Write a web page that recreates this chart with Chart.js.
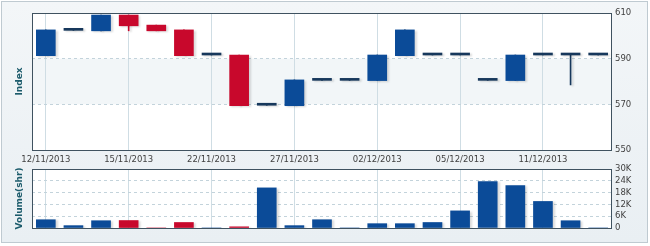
<!DOCTYPE html>
<html>
<head>
<meta charset="utf-8">
<script src="https://cdn.jsdelivr.net/npm/chart.js@4/dist/chart.umd.min.js"></script>
<style>
  html, body { margin: 0; padding: 0; background: #ffffff; }
  #wrap { position: relative; width: 650px; height: 246px; overflow: hidden; }
  #frame { position: absolute; left: 1px; top: 1px; width: 645px; height: 240px;
           border: 1px solid #bfcad1; background: linear-gradient(#f3f6f8, #e9eff3); }
  #c1 { position: absolute; left: 0; top: 0; }
  #c2 { position: absolute; left: 0; top: 160px; }
</style>
</head>
<body>
<div id="wrap">
  <div id="frame"></div>
  <canvas id="c1" width="650" height="168"></canvas>
  <canvas id="c2" width="650" height="80"></canvas>
</div>
<script>
// ---- data ----
const dates = ['12/11/2013','13/11/2013','14/11/2013','15/11/2013','18/11/2013','20/11/2013',
               '22/11/2013','25/11/2013','26/11/2013','27/11/2013','28/11/2013','29/11/2013',
               '02/12/2013','03/12/2013','04/12/2013','05/12/2013','06/12/2013','09/12/2013',
               '11/12/2013','12/12/2013','13/12/2013'];
const openP  = [591.3, 602.4, 602.2, 609.1, 604.7, 602.6, 591.6, 591.6, 569.6, 569.4, 580.5, 580.5,
                580.4, 591.3, 591.6, 591.6, 580.5, 580.4, 591.6, 591.6, 591.6];
const closeP = [602.6, 602.4, 609.1, 604.4, 602.2, 591.3, 591.6, 569.4, 569.6, 580.7, 580.5, 580.5,
                591.6, 602.6, 591.6, 591.6, 580.5, 591.6, 591.6, 591.6, 591.6];
const highP  = [602.6, 602.4, 609.1, 609.1, 604.7, 602.6, 591.6, 591.6, 569.6, 580.7, 580.5, 580.5,
                591.6, 602.6, 591.6, 591.6, 580.5, 591.6, 591.6, 591.6, 591.6];
const lowP   = [591.3, 602.4, 602.2, 602.2, 602.2, 591.3, 591.6, 569.4, 569.6, 569.4, 580.5, 580.5,
                580.4, 591.3, 591.6, 591.6, 580.5, 580.4, 591.6, 578.5, 591.6];
const volume = [4200, 1200, 3700, 3800, 0, 2800, 0, 600, 20400, 1200, 4200, 0,
                2200, 2200, 2800, 8700, 23600, 21600, 13500, 3700, 0];
const priceTicks = [550, 570, 590, 610];
const volumeTicks = [0, 6000, 12000, 18000, 24000, 30000];

// ---- styles ----
const BLUE = '#0b4b98', RED = '#c8082c', FLAT = '#17385c';
const GRID = '#c3d3db', VGRID = '#cfdde4', BORDER = '#3f5260', TICK = '#3f3f3f', TITLE = '#1d5c6c';
const FONT = 'DejaVu Sans';

function candleColor(i) {
  if (closeP[i] > openP[i]) return BLUE;
  if (closeP[i] < openP[i]) return RED;
  return FLAT;
}
function volColor(i) { return closeP[i] < openP[i] ? RED : BLUE; }

function bandPlugin(bands) {
  return {
    id: 'bandFill',
    beforeDraw(chart) {
      const {ctx, chartArea: a, scales} = chart;
      ctx.save();
      ctx.fillStyle = '#ffffff';
      ctx.fillRect(a.left, a.top, a.right - a.left, a.bottom - a.top);
      ctx.fillStyle = '#f2f6f8';
      bands.forEach(([lo, hi]) => {
        const y1 = scales.y.getPixelForValue(hi), y2 = scales.y.getPixelForValue(lo);
        ctx.fillRect(a.left, y1, a.right - a.left, y2 - y1);
      });
      ctx.restore();
    }
  };
}
function framePlugin(titleText) {
  return {
    id: 'frameTitle',
    afterDraw(chart) {
      const {ctx, chartArea: a} = chart;
      ctx.save();
      ctx.strokeStyle = BORDER; ctx.lineWidth = 1;
      ctx.strokeRect(Math.round(a.left) + 0.5, Math.round(a.top) + 0.5,
                     Math.round(a.right - a.left) - 1, Math.round(a.bottom - a.top));
      ctx.translate(20, (a.top + a.bottom) / 2);
      ctx.rotate(-Math.PI / 2);
      ctx.fillStyle = TITLE;
      ctx.font = 'bold 9px ' + FONT;
      ctx.textAlign = 'center'; ctx.textBaseline = 'middle';
      ctx.fillText(titleText, 0, 0);
      ctx.restore();
    }
  };
}
const shadowPlugin = {
  id: 'shadow',
  beforeDatasetsDraw(chart) {
    const ctx = chart.ctx;
    ctx.save();
    ctx.shadowColor = 'rgba(0,0,0,0.15)';
    ctx.shadowBlur = 2; ctx.shadowOffsetX = 2; ctx.shadowOffsetY = 1;
  },
  afterDatasetsDraw(chart) { chart.ctx.restore(); }
};

const xAxisCommon = (showLabels) => ({
  type: 'category',
  offset: true,
  grid: { offset: false, drawTicks: false,
          color: (c) => (c.index % 3 === 0 ? VGRID : 'rgba(0,0,0,0)'), lineWidth: 1 },
  border: { display: false },
  ticks: {
    display: showLabels, autoSkip: false, maxRotation: 0, padding: 5,
    color: TICK, font: { family: FONT, size: 8.5 },
    callback: function (v, i) { return i % 3 === 0 ? this.getLabelForValue(v) : ''; }
  }
});

const yAxisCommon = (min, max, tickVals, fmt) => ({
  position: 'right', min: min, max: max,
  afterBuildTicks: (s) => { s.ticks = tickVals.map(v => ({ value: v })); },
  afterFit: (s) => { s.width = 38; },
  grid: { drawTicks: false, color: GRID, lineWidth: 1 },
  border: { display: false, dash: [3, 3] },
  ticks: { autoSkip: false, padding: 3, color: TICK, font: { family: FONT, size: 8.5 },
           callback: fmt }
});

// ---- main price chart ----
new Chart(document.getElementById('c1'), {
  type: 'bar',
  data: {
    labels: dates,
    datasets: [
      {
        data: dates.map((d, i) => [openP[i], closeP[i]]),
        backgroundColor: dates.map((d, i) => candleColor(i)),
        barThickness: 19, minBarLength: 2, grouped: false, borderWidth: 0
      },
      {
        data: dates.map((d, i) => [lowP[i], highP[i]]),
        backgroundColor: dates.map((d, i) => closeP[i] < openP[i] ? RED : FLAT),
        barThickness: 1, grouped: false, borderWidth: 0
      }
    ]
  },
  options: {
    responsive: false, animation: false, devicePixelRatio: 1,
    layout: { padding: { left: 32, top: 13, right: 0, bottom: 0 }, autoPadding: false },
    plugins: { legend: { display: false }, tooltip: { enabled: false } },
    scales: {
      x: Object.assign(xAxisCommon(true), { afterFit: (s) => { s.height = 18; } }),
      y: yAxisCommon(550, 610, priceTicks, (v) => String(v))
    }
  },
  plugins: [bandPlugin([[570, 590]]), shadowPlugin, framePlugin('Index')]
});

// ---- volume chart ----
new Chart(document.getElementById('c2'), {
  type: 'bar',
  data: {
    labels: dates,
    datasets: [{
      data: volume,
      backgroundColor: dates.map((d, i) => volColor(i)),
      barThickness: 19, borderWidth: 0
    }]
  },
  options: {
    responsive: false, animation: false, devicePixelRatio: 1,
    layout: { padding: { left: 32, top: 9, right: 0, bottom: 12 }, autoPadding: false },
    plugins: { legend: { display: false }, tooltip: { enabled: false } },
    scales: {
      x: Object.assign(xAxisCommon(false), { afterFit: (s) => { s.height = 0; } }),
      y: yAxisCommon(0, 30000, volumeTicks, (v) => (v === 0 ? '0' : (v / 1000) + 'K'))
    }
  },
  plugins: [bandPlugin([]), shadowPlugin, framePlugin('Volume(shr)')]
});
</script>
</body>
</html>
